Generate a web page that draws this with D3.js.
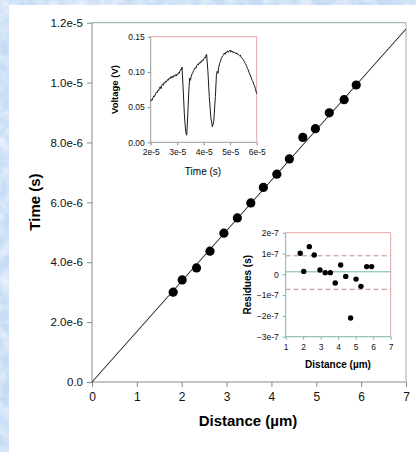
<!DOCTYPE html>
<html>
<head>
<meta charset="utf-8">
<script src="https://cdn.jsdelivr.net/npm/d3@7"></script>
<style>
  body { margin: 0; background: #d3e2f6; }
  svg { display: block; font-family: Arial, "Liberation Sans", sans-serif; }
</style>
</head>
<body>
<div id="chart"></div>
<script>
// main plot: distance (um) vs time (s)
var distance = [1.81, 2.01, 2.33, 2.63, 2.94, 3.24, 3.54, 3.82, 4.12, 4.40, 4.70, 4.98, 5.29, 5.62, 5.89];
var times = [3.00e-6, 3.41e-6, 3.81e-6, 4.37e-6, 4.97e-6, 5.48e-6, 5.98e-6, 6.50e-6, 6.94e-6, 7.45e-6, 8.17e-6, 8.46e-6, 8.99e-6, 9.43e-6, 9.92e-6];
var fitX = [0, 7];
var fitY = [0, 1.179e-5];
var mainXTicks = [0, 1, 2, 3, 4, 5, 6, 7];
var mainYTicks = [0, 2e-6, 4e-6, 6e-6, 8e-6, 1e-5, 1.2e-5];

// inset: voltage trace (time in units of 1e-5 s)
var traceT = [2.00, 2.03, 2.06, 2.09, 2.12, 2.15, 2.18, 2.21, 2.24, 2.27, 2.30, 2.33, 2.36, 2.39, 2.42, 2.45,
  2.48, 2.51, 2.54, 2.57, 2.60, 2.63, 2.66, 2.69, 2.72, 2.75, 2.78, 2.81, 2.84, 2.87, 2.90, 2.93,
  2.96, 2.99, 3.02, 3.05, 3.08, 3.11, 3.14, 3.16, 3.18, 3.22, 3.27, 3.32, 3.36, 3.40, 3.44, 3.47,
  3.50, 3.53, 3.56, 3.59, 3.62, 3.65, 3.68, 3.71, 3.74, 3.77, 3.80, 3.83, 3.86, 3.89, 3.92, 3.95,
  3.98, 4.01, 4.04, 4.07, 4.09, 4.11, 4.16, 4.21, 4.27, 4.33, 4.38, 4.44, 4.48, 4.51, 4.54, 4.57,
  4.60, 4.63, 4.66, 4.69, 4.72, 4.75, 4.78, 4.81, 4.84, 4.87, 4.90, 4.93, 4.96, 4.99, 5.02, 5.05,
  5.08, 5.11, 5.14, 5.17, 5.20, 5.23, 5.26, 5.29, 5.32, 5.35, 5.38, 5.41, 5.44, 5.47, 5.50, 5.53,
  5.56, 5.59, 5.62, 5.65, 5.68, 5.71, 5.74, 5.77, 5.80, 5.83, 5.86, 5.89, 5.92, 5.95, 5.98, 6.00];
var traceV = [0.058, 0.061, 0.060, 0.064, 0.066, 0.065, 0.069, 0.071, 0.070, 0.074, 0.073, 0.077, 0.079, 0.076, 0.081, 0.083,
  0.081, 0.085, 0.084, 0.087, 0.086, 0.089, 0.088, 0.091, 0.090, 0.093, 0.091, 0.094, 0.092, 0.095, 0.094, 0.096,
  0.094, 0.097, 0.096, 0.099, 0.098, 0.102, 0.104, 0.103, 0.107, 0.080, 0.040, 0.015, 0.010, 0.040, 0.075, 0.091,
  0.088, 0.094, 0.097, 0.099, 0.102, 0.104, 0.106, 0.105, 0.109, 0.111, 0.110, 0.113, 0.112, 0.115, 0.114, 0.117,
  0.116, 0.119, 0.121, 0.120, 0.124, 0.125, 0.100, 0.065, 0.035, 0.022, 0.030, 0.065, 0.095, 0.101, 0.098, 0.107,
  0.112, 0.115, 0.119, 0.121, 0.123, 0.124, 0.127, 0.125, 0.128, 0.127, 0.130, 0.128, 0.129, 0.131, 0.128, 0.130,
  0.128, 0.129, 0.127, 0.128, 0.126, 0.127, 0.125, 0.126, 0.124, 0.123, 0.124, 0.121, 0.120, 0.118, 0.117, 0.115,
  0.112, 0.111, 0.108, 0.105, 0.103, 0.099, 0.097, 0.094, 0.091, 0.088, 0.086, 0.082, 0.080, 0.076, 0.072, 0.069];
var traceXTicks = [2e-5, 3e-5, 4e-5, 5e-5, 6e-5];
var traceYTicks = [0, 0.05, 0.10, 0.15];

// inset: residues
var resDist = [1.83, 2.03, 2.35, 2.63, 2.96, 3.26, 3.55, 3.83, 4.14, 4.43, 4.71, 5.02, 5.30, 5.63, 5.91];
var resVal = [1.01e-7, 0.14e-7, 1.33e-7, 0.93e-7, 0.21e-7, 0.08e-7, 0.08e-7, -0.42e-7, 0.45e-7, -0.10e-7, -2.10e-7, -0.23e-7, -0.58e-7, 0.37e-7, 0.37e-7];
var resMean = 0.12e-7;
var resBand = [0.89e-7, -0.72e-7];
var resXTicks = [1, 2, 3, 4, 5, 6, 7];
var resYTicks = [-3e-7, -2e-7, -1e-7, 0, 1e-7, 2e-7];

var W = 416, H = 452;
var svg = d3.select("#chart").append("svg")
    .attr("width", W)
    .attr("height", H);

// textured blue backdrop + white panel
var defs = svg.append("defs");
var f = defs.append("filter").attr("id", "marble");
f.append("feTurbulence").attr("type", "fractalNoise").attr("baseFrequency", "0.08").attr("numOctaves", 3).attr("seed", 4);
f.append("feColorMatrix").attr("type", "matrix")
    .attr("values", "0 0 0 0 1  0 0 0 0 1  0 0 0 0 1  0 0 0 -1.6 1.1");
svg.append("rect").attr("width", W).attr("height", H).attr("fill", "#c6dbf5");
svg.append("rect").attr("width", W).attr("height", H).attr("filter", "url(#marble)").attr("opacity", 0.7);
svg.append("rect").attr("x", 9).attr("y", 5).attr("width", W - 9).attr("height", H - 5).attr("fill", "#fff");

function styleAxis(g, color, size) {
    g.select(".domain").remove();
    g.selectAll(".tick line").attr("stroke", color);
    g.selectAll(".tick text").attr("fill", "#111").style("font-size", size + "px");
}

// ---------- main plot
var x = d3.scaleLinear().domain([0, 7]).range([92, 406]);
var y = d3.scaleLinear().domain([0, 1.2e-5]).range([382, 22.7]);

svg.append("g")
    .attr("transform", "translate(0,382)")
    .call(d3.axisBottom(x).tickValues(mainXTicks).tickSize(5).tickPadding(5).tickFormat(d3.format("d")))
    .call(g => styleAxis(g, "#888", 12));

svg.append("g")
    .attr("transform", "translate(92,0)")
    .call(d3.axisLeft(y).tickValues(mainYTicks).tickSize(5).tickPadding(4)
        .tickFormat(d => d === 0 ? "0.0" : d3.format(".1e")(d)))
    .call(g => styleAxis(g, "#888", 11.5));

// frame
svg.append("line").attr("x1", x(0)).attr("x2", x(0)).attr("y1", y(0)).attr("y2", y(1.2e-5)).attr("stroke", "#888");
svg.append("line").attr("x1", x(0)).attr("x2", x(7)).attr("y1", y(0)).attr("y2", y(0)).attr("stroke", "#888");
svg.append("line").attr("x1", x(0)).attr("x2", x(7)).attr("y1", y(1.2e-5)).attr("y2", y(1.2e-5)).attr("stroke", "#8fa8a8");
svg.append("line").attr("x1", x(7)).attr("x2", x(7)).attr("y1", y(0)).attr("y2", y(1.2e-5)).attr("stroke", "#aaa");

// fit line
svg.append("line")
    .attr("x1", x(fitX[0])).attr("y1", y(fitY[0]))
    .attr("x2", x(fitX[1])).attr("y2", y(fitY[1]))
    .attr("stroke", "#c04040").attr("stroke-width", 1.4).attr("opacity", 0.3);
svg.append("line")
    .attr("x1", x(fitX[0])).attr("y1", y(fitY[0]))
    .attr("x2", x(fitX[1])).attr("y2", y(fitY[1]))
    .attr("stroke", "#263030").attr("stroke-width", 1);

svg.append("g").selectAll("circle")
    .data(distance)
    .enter().append("circle")
    .attr("cx", d => x(d))
    .attr("cy", (d, i) => y(times[i]))
    .attr("r", 4.6)
    .attr("fill", "#000");

svg.append("text")
    .attr("x", 248).attr("y", 426)
    .attr("text-anchor", "middle")
    .attr("font-weight", "bold").attr("font-size", "15px")
    .text("Distance (µm)");
svg.append("text")
    .attr("transform", "translate(40,202) rotate(-90)")
    .attr("text-anchor", "middle")
    .attr("font-weight", "bold").attr("font-size", "15px")
    .text("Time (s)");

// ---------- voltage inset
var xi = d3.scaleLinear().domain([2e-5, 6e-5]).range([150.7, 256.7]);
var yi = d3.scaleLinear().domain([0, 0.15]).range([142.3, 36.7]);

svg.append("g")
    .attr("transform", "translate(0,142.3)")
    .call(d3.axisBottom(xi).tickValues(traceXTicks).tickSize(3).tickPadding(4).tickFormat(d3.format(".0e")))
    .call(g => styleAxis(g, "#888", 8.5));
svg.append("g")
    .attr("transform", "translate(150.7,0)")
    .call(d3.axisLeft(yi).tickValues(traceYTicks).tickSize(3).tickPadding(3).tickFormat(d3.format(".2f")))
    .call(g => styleAxis(g, "#888", 8.5));

svg.append("line").attr("x1", xi(2e-5)).attr("x2", xi(2e-5)).attr("y1", yi(0)).attr("y2", yi(0.15)).attr("stroke", "#999");
svg.append("line").attr("x1", xi(2e-5)).attr("x2", xi(6e-5)).attr("y1", yi(0)).attr("y2", yi(0)).attr("stroke", "#999");
svg.append("line").attr("x1", xi(2e-5)).attr("x2", xi(6e-5)).attr("y1", yi(0.15)).attr("y2", yi(0.15)).attr("stroke", "#e4a4a4");
svg.append("line").attr("x1", xi(6e-5)).attr("x2", xi(6e-5)).attr("y1", yi(0)).attr("y2", yi(0.15)).attr("stroke", "#e4a4a4");

svg.append("path")
    .datum(traceT)
    .attr("fill", "none")
    .attr("stroke", "#1a1a1a")
    .attr("stroke-width", 1)
    .attr("d", d3.line().x(d => xi(d * 1e-5)).y((d, i) => yi(traceV[i])));

svg.append("text")
    .attr("x", 203).attr("y", 175)
    .attr("text-anchor", "middle")
    .attr("font-size", "10px")
    .text("Time (s)");
svg.append("text")
    .attr("transform", "translate(118,89.5) rotate(-90)")
    .attr("text-anchor", "middle")
    .attr("font-weight", "bold").attr("font-size", "9.5px")
    .text("Voltage (V)");

// ---------- residues inset
var xr = d3.scaleLinear().domain([1, 7]).range([285.7, 390.7]);
var yr = d3.scaleLinear().domain([-3e-7, 2e-7]).range([336.7, 232.7]);

svg.append("g")
    .attr("transform", "translate(0,336.7)")
    .call(d3.axisBottom(xr).tickValues(resXTicks).tickSize(3).tickPadding(4).tickFormat(d3.format("d")))
    .call(g => styleAxis(g, "#7aa", 8.5));
svg.append("g")
    .attr("transform", "translate(285.7,0)")
    .call(d3.axisLeft(yr).tickValues(resYTicks).tickSize(3).tickPadding(4)
        .tickFormat(d => d === 0 ? "0" : d3.format(".0e")(d)))
    .call(g => styleAxis(g, "#7aa", 8.5));

svg.append("line").attr("x1", xr(1)).attr("x2", xr(1)).attr("y1", yr(-3e-7)).attr("y2", yr(2e-7)).attr("stroke", "#7fb3ad");
svg.append("line").attr("x1", xr(1)).attr("x2", xr(7)).attr("y1", yr(-3e-7)).attr("y2", yr(-3e-7)).attr("stroke", "#7fb3ad");
svg.append("line").attr("x1", xr(1)).attr("x2", xr(7)).attr("y1", yr(2e-7)).attr("y2", yr(2e-7)).attr("stroke", "#e4a4a4");
svg.append("line").attr("x1", xr(7)).attr("x2", xr(7)).attr("y1", yr(-3e-7)).attr("y2", yr(2e-7)).attr("stroke", "#e4a4a4");

svg.append("line")
    .attr("x1", xr(1)).attr("x2", xr(7)).attr("y1", yr(resMean)).attr("y2", yr(resMean))
    .attr("stroke", "#6fb5ad").attr("stroke-width", 1);
svg.append("g").selectAll("line")
    .data(resBand)
    .enter().append("line")
    .attr("x1", xr(1)).attr("x2", xr(7))
    .attr("y1", d => yr(d)).attr("y2", d => yr(d))
    .attr("stroke", "#b89090").attr("stroke-width", 1)
    .attr("stroke-dasharray", "5,3");

svg.append("g").selectAll("circle")
    .data(resDist)
    .enter().append("circle")
    .attr("cx", d => xr(d))
    .attr("cy", (d, i) => yr(resVal[i]))
    .attr("r", 2.7)
    .attr("fill", "#000");

svg.append("text")
    .attr("x", 338).attr("y", 367.5)
    .attr("text-anchor", "middle")
    .attr("font-weight", "bold").attr("font-size", "10px")
    .text("Distance (µm)");
svg.append("text")
    .attr("transform", "translate(251,284.7) rotate(-90)")
    .attr("text-anchor", "middle")
    .attr("font-weight", "bold").attr("font-size", "10px")
    .text("Residues (s)");
</script>
</body>
</html>
